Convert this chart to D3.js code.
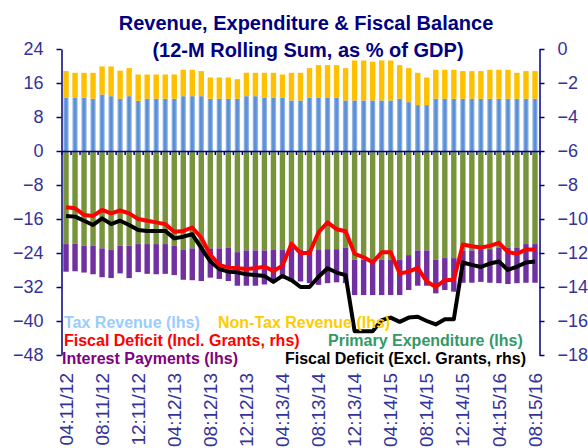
<!DOCTYPE html>
<html>
<head>
<meta charset="utf-8">
<script src="https://cdn.jsdelivr.net/npm/d3@7"></script>
<style>
  body { margin: 0; background: #fff; }
  text { font-family: "Liberation Sans", Arial, sans-serif; }
</style>
</head>
<body>
<svg id="chart"></svg>
<script>
// months, Apr 2011 .. Aug 2015 (fiscal year Apr-Mar)
var months = [
  "04:11/12","05:11/12","06:11/12","07:11/12","08:11/12","09:11/12","10:11/12","11:11/12","12:11/12","01:11/12","02:11/12","03:11/12",
  "04:12/13","05:12/13","06:12/13","07:12/13","08:12/13","09:12/13","10:12/13","11:12/13","12:12/13","01:12/13","02:12/13","03:12/13",
  "04:13/14","05:13/14","06:13/14","07:13/14","08:13/14","09:13/14","10:13/14","11:13/14","12:13/14","01:13/14","02:13/14","03:13/14",
  "04:14/15","05:14/15","06:14/15","07:14/15","08:14/15","09:14/15","10:14/15","11:14/15","12:14/15","01:14/15","02:14/15","03:14/15",
  "04:15/16","05:15/16","06:15/16","07:15/16","08:15/16"
]
var tickLabels = ["04:11/12","08:11/12","12:11/12","04:12/13","08:12/13","12:12/13","04:13/14",
  "08:13/14","12:13/14","04:14/15","08:14/15","12:14/15","04:15/16","08:15/16"]

// lhs, % of GDP
var taxRevenue = [12.5,12.5,12.5,12.3,13.3,12.9,12.3,12.9,11.8,12.3,12.3,12.3,12.3,12.9,12.9,12.9,12.3,12.3,12.3,12.3,
  12.9,12.9,12.5,12.5,12.5,11.9,11.9,12.5,12.5,12.5,12.5,11.9,11.9,11.9,11.9,11.9,11.9,12.3,11.5,10.8,
  10.8,12.3,12.3,12.3,12.3,12.3,12.3,12.3,12.3,12.3,12.3,12.3,12.3]
var nonTaxRevenue = [6.3,5.9,5.9,6.1,6.6,7.0,6.6,6.6,6.2,5.7,5.7,5.7,5.7,6.2,6.2,5.9,5.0,5.0,5.0,4.6,
  5.5,5.5,5.9,5.9,5.5,6.5,6.5,7.0,7.7,7.7,7.7,7.6,9.4,9.4,9.1,9.4,9.4,7.9,8.0,7.6,
  6.5,6.8,6.8,6.8,6.5,6.5,6.5,6.8,6.8,6.8,6.1,6.5,6.5]
var primaryExp = [-21.9,-21.8,-22.3,-22.3,-22.9,-23.3,-22.3,-22.3,-21.9,-21.9,-21.9,-21.9,-22.3,-23.3,-22.9,-22.9,-22.9,-22.9,-22.7,-23.8,
  -23.4,-23.4,-23.4,-23.3,-23.3,-22.7,-23.3,-23.3,-23.3,-23.1,-23.1,-22.7,-25.6,-25.6,-25.6,-25.6,-25.6,-25.6,-24.5,-23.4,
  -23.4,-25.6,-25.2,-25.2,-23.4,-23.4,-23.1,-23.1,-22.7,-22.7,-22.7,-21.9,-21.9]
var interest = [-6.5,-6.5,-6.3,-6.7,-6.8,-6.6,-6.5,-7.6,-6.6,-7.0,-7.1,-7.0,-6.9,-7.0,-7.5,-7.7,-6.9,-7.2,-7.9,-7.9,
  -8.3,-8.3,-8.0,-7.6,-6.7,-8.0,-7.4,-7.8,-8.2,-8.0,-7.8,-8.4,-8.3,-8.3,-8.3,-8.3,-8.3,-8.3,-8.2,-8.3,
  -8.3,-7.9,-7.5,-7.9,-7.6,-7.6,-7.7,-7.9,-8.4,-8.6,-8.4,-9.1,-9.1]

// rhs, % of GDP
var deficitIncl = [-9.31,-9.37,-9.76,-9.82,-9.47,-9.67,-9.5,-9.67,-10.0,-10.1,-10.2,-10.3,-10.75,-10.7,-10.5,-11.1,-12.1,-12.7,-12.86,-12.9,
  -12.94,-12.9,-12.8,-13.06,-12.75,-11.45,-12.0,-12.0,-10.78,-10.2,-10.6,-10.72,-12.05,-12.25,-12.55,-11.96,-11.96,-13.2,-13.1,-12.88,
  -13.68,-14.0,-13.6,-13.58,-11.5,-11.6,-11.68,-11.58,-11.4,-11.94,-12.05,-11.79,-11.79]
var deficitExcl = [-9.82,-9.86,-10.1,-10.35,-9.96,-10.3,-10.1,-10.35,-10.65,-10.7,-10.7,-10.7,-11.14,-11.04,-10.9,-11.7,-12.5,-12.94,-13.1,-13.14,
  -13.25,-13.3,-13.35,-13.7,-13.35,-13.6,-14.0,-14.0,-13.4,-12.9,-13.15,-13.3,-16.6,-16.6,-16.6,-15.95,-15.8,-16.05,-15.8,-15.75,
  -16.0,-16.2,-15.9,-15.9,-12.56,-12.7,-12.82,-12.62,-12.5,-13.0,-12.8,-12.56,-12.5]

var navy = "#000080", labelColor = "#333399"

var svg = d3.select("#chart")
  .attr("width", 588)
  .attr("height", 448)

var plot = {left: 61.5, right: 539.5, top: 49, bottom: 355}

var x = d3.scaleBand()
  .domain(months)
  .range([plot.left, plot.right])
  .paddingInner(0.4)
  .paddingOuter(0.2)
var xIdx = d3.scaleLinear().domain([0, months.length]).range([plot.left, plot.right])

var yL = d3.scaleLinear().domain([-48, 24]).range([plot.bottom, plot.top])
var yR = d3.scaleLinear().domain([-18, 0]).range([plot.bottom, plot.top])

// gradient for tax revenue bars
var grad = svg.append("defs").append("linearGradient")
  .attr("id", "taxGrad").attr("x1", "0").attr("x2", "1").attr("y1", "0").attr("y2", "0")
grad.append("stop").attr("offset", "0%").attr("stop-color", "#a9c6ee")
grad.append("stop").attr("offset", "35%").attr("stop-color", "#5b8fd6")
grad.append("stop").attr("offset", "65%").attr("stop-color", "#5b8fd6")
grad.append("stop").attr("offset", "100%").attr("stop-color", "#a9c6ee")

var rows = months.map(function(m, i){
  return {m: m, tax: taxRevenue[i], nontax: nonTaxRevenue[i], pe: primaryExp[i], ip: interest[i]}
})

function bars(cls, fill, y0, y1){
  svg.append("g").selectAll("rect")
    .data(rows)
    .enter()
    .append("rect")
    .attr("class", cls)
    .attr("x", function(d){ return x(d.m) })
    .attr("width", x.bandwidth())
    .attr("y", function(d){ return Math.min(yL(y0(d)), yL(y1(d))) })
    .attr("height", function(d){ return Math.abs(yL(y0(d)) - yL(y1(d))) })
    .attr("fill", fill)
}
bars("tax", "url(#taxGrad)", function(d){ return 0 }, function(d){ return d.tax })
bars("nontax", "#ffc000", function(d){ return d.tax }, function(d){ return d.tax + d.nontax })
bars("pe", "#77933c", function(d){ return 0 }, function(d){ return d.pe })
bars("ip", "#7030a0", function(d){ return d.pe }, function(d){ return d.pe + d.ip })

// zero line with category ticks
var zeroAxis = svg.append("g")
  .attr("transform", "translate(0," + yL(0) + ")")
  .call(d3.axisBottom(xIdx).tickValues(d3.range(months.length + 1)).tickSize(4).tickSizeOuter(0).tickFormat(""))
zeroAxis.selectAll("path, line").attr("stroke", navy).attr("stroke-width", 1.5)

// left axis
var leftAxis = svg.append("g")
  .attr("transform", "translate(" + plot.left + ",0)")
  .call(d3.axisLeft(yL).tickValues(d3.range(-48, 25, 8)).tickSize(5).tickSizeOuter(0).tickPadding(13))
leftAxis.selectAll("path, line").attr("stroke", navy).attr("stroke-width", 1.5)
leftAxis.selectAll("text").attr("fill", labelColor).attr("font-size", 18)
  .style("font-family", "'Liberation Sans', Arial, sans-serif")

// right axis
var rightAxis = svg.append("g")
  .attr("transform", "translate(" + plot.right + ",0)")
  .call(d3.axisRight(yR).tickValues(d3.range(-18, 1, 2)).tickSize(5).tickSizeOuter(0).tickPadding(13))
rightAxis.selectAll("path, line").attr("stroke", navy).attr("stroke-width", 1.5)
rightAxis.selectAll("text").attr("fill", labelColor).attr("font-size", 18)
  .style("font-family", "'Liberation Sans', Arial, sans-serif")

// month labels
svg.append("g").selectAll("text")
  .data(tickLabels)
  .enter()
  .append("text")
  .attr("transform", function(d){
    return "translate(" + (x(d) + x.bandwidth() / 2) + ",373) rotate(-90)"
  })
  .attr("dy", "0.35em")
  .attr("text-anchor", "end")
  .attr("font-size", 19)
  .attr("fill", labelColor)
  .text(function(d){ return d })

// rhs lines
var line = function(vals){
  return d3.line()
    .x(function(d, i){ return x(months[i]) + x.bandwidth() / 2 })
    .y(function(d){ return yR(d) })(vals)
}
svg.append("path").attr("d", line(deficitExcl))
  .attr("fill", "none").attr("stroke", "#000").attr("stroke-width", 4).attr("stroke-linejoin", "round")
svg.append("path").attr("d", line(deficitIncl))
  .attr("fill", "none").attr("stroke", "#ff0000").attr("stroke-width", 4).attr("stroke-linejoin", "round")

// legend (text only)
var legend = [
  {t: "Tax Revenue (lhs)", c: "#99ccff", x: 64, y: 328},
  {t: "Non-Tax Revenue (lhs)", c: "#ffcc00", x: 218, y: 328},
  {t: "Fiscal Deficit (Incl. Grants, rhs)", c: "#ff0000", x: 64, y: 346},
  {t: "Primary Expenditure (lhs)", c: "#339966", x: 328, y: 346},
  {t: "Interest Payments (lhs)", c: "#800080", x: 62, y: 364},
  {t: "Fiscal Deficit (Excl. Grants, rhs)", c: "#000000", x: 285, y: 364}
]
svg.append("g").selectAll("text")
  .data(legend)
  .enter()
  .append("text")
  .attr("x", function(d){ return d.x })
  .attr("y", function(d){ return d.y })
  .attr("fill", function(d){ return d.c })
  .attr("font-size", 16)
  .attr("font-weight", "bold")
  .text(function(d){ return d.t })

// title
svg.append("text")
  .attr("x", 306).attr("y", 30)
  .attr("text-anchor", "middle").attr("font-size", 20).attr("font-weight", "bold").attr("fill", navy)
  .text("Revenue, Expenditure & Fiscal Balance")
svg.append("text")
  .attr("x", 308).attr("y", 57)
  .attr("text-anchor", "middle").attr("font-size", 20).attr("font-weight", "bold").attr("fill", navy)
  .text("(12-M Rolling Sum, as % of GDP)")
</script>
</body>
</html>
